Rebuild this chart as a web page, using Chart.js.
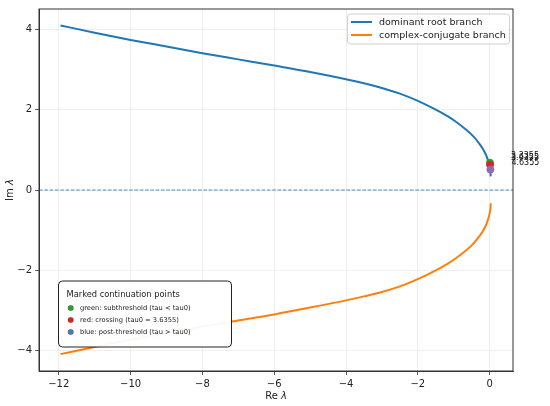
<!DOCTYPE html>
<html>
<head>
<meta charset="utf-8">
<script src="https://cdn.jsdelivr.net/npm/chart.js@4.4.0/dist/chart.umd.min.js"></script>
<style>
  html, body { margin: 0; padding: 0; background: #fff; }
  canvas { display: block; }
</style>
</head>
<body>
<canvas id="myChart" width="550" height="406"></canvas>
<script>
// branch samples (Re lambda, Im lambda)
const re = [-11.95, -11, -10, -9, -8, -7, -6, -5, -4, -3.5, -3, -2.5, -2, -1.5, -1.14, -0.94, -0.68, -0.48, -0.3, -0.2, -0.11, -0.05, -0.01, 0.02, 0.03];
const domIm = [4.10, 3.92, 3.74, 3.575, 3.41, 3.255, 3.10, 2.94, 2.76, 2.66, 2.54, 2.40, 2.22, 2.00, 1.82, 1.70, 1.52, 1.36, 1.17, 1.04, 0.89, 0.75, 0.62, 0.47, 0.34];
const conjIm = [-4.09, -3.91, -3.73, -3.565, -3.40, -3.25, -3.10, -2.93, -2.75, -2.65, -2.54, -2.40, -2.22, -2.00, -1.82, -1.70, -1.52, -1.36, -1.17, -1.04, -0.89, -0.75, -0.62, -0.47, -0.33];

// marked continuation points
const markRe = [0.01, 0.01, 0.02];
const markIm = [0.68, 0.63, 0.51];
const markTau = ['3.3355', '3.6355', '4.6355'];

const legendNames = ['dominant root branch', 'complex-conjugate branch'];
const markLegendTitle = 'Marked continuation points';
const markLegend = ['green: subthreshold (tau < tau0)', 'red: crossing (tau0 = 3.6355)', 'blue: post-threshold (tau > tau0)'];

const xTicks = [-12, -10, -8, -6, -4, -2, 0];
const yTicks = [-4, -2, 0, 2, 4];
const xLim = [-12.55, 0.65];
const yLim = [-4.51, 4.51];

const FONT = '"DejaVu Sans", sans-serif';
const BLUE = '#1f77b4', ORANGE = '#ff7f0e';
const markColors = ['#2ca02c', '#d62728', '#9467bd'];
const markLegendColors = ['#2ca02c', '#d62728', '#4c7bb0'];

function minus(v) {
  return v < 0 ? '\u2212' + Math.abs(v) : String(v);
}

function drawMathLabel(ctx, plain, sym, x, y) {
  ctx.font = '10px ' + FONT;
  const w1 = ctx.measureText(plain).width;
  ctx.font = 'italic 10px ' + FONT;
  const w2 = ctx.measureText(sym).width;
  let sx = x - (w1 + w2) / 2;
  ctx.textAlign = 'left';
  ctx.textBaseline = 'middle';
  ctx.font = '10px ' + FONT;
  ctx.fillText(plain, sx, y);
  ctx.font = 'italic 10px ' + FONT;
  ctx.fillText(sym, sx + w1, y);
}

const extras = {
  id: 'extras',
  afterDraw(chart) {
    const ctx = chart.ctx;
    const a = chart.chartArea;
    ctx.save();

    // spines
    ctx.strokeStyle = '#333';
    ctx.lineWidth = 1;
    ctx.strokeRect(a.left, a.top, a.right - a.left, a.bottom - a.top);

    // axis titles
    ctx.fillStyle = '#222';
    drawMathLabel(ctx, 'Re ', '\u03bb', (a.left + a.right) / 2, 396);
    ctx.save();
    ctx.translate(10, (a.top + a.bottom) / 2);
    ctx.rotate(-Math.PI / 2);
    drawMathLabel(ctx, 'Im ', '\u03bb', 0, 0);
    ctx.restore();

    // tau labels next to the marked points
    const pts = chart.getDatasetMeta(0).data;
    ctx.font = '8px ' + FONT;
    ctx.fillStyle = '#111';
    ctx.textAlign = 'left';
    ctx.textBaseline = 'alphabetic';
    pts.forEach((p, i) => {
      ctx.fillText(markTau[i], p.x + 21, p.y - 5);
    });

    // top-right legend
    ctx.beginPath();
    ctx.roundRect(347.5, 14, 162, 30, 3);
    ctx.fillStyle = 'rgba(255,255,255,0.85)';
    ctx.fill();
    ctx.strokeStyle = '#d0d0d0';
    ctx.lineWidth = 1;
    ctx.stroke();
    [BLUE, ORANGE].forEach((c, i) => {
      const y = 22 + i * 13;
      ctx.strokeStyle = c;
      ctx.lineWidth = 2;
      ctx.beginPath();
      ctx.moveTo(351, y);
      ctx.lineTo(372, y);
      ctx.stroke();
      ctx.fillStyle = '#222';
      ctx.font = '9.5px ' + FONT;
      ctx.textBaseline = 'middle';
      ctx.fillText(legendNames[i], 379, y + 0.5);
    });

    // marker legend box
    ctx.beginPath();
    ctx.roundRect(58.5, 281, 173, 66, 4);
    ctx.fillStyle = 'rgba(255,255,255,0.95)';
    ctx.fill();
    ctx.strokeStyle = '#222';
    ctx.lineWidth = 1;
    ctx.stroke();
    ctx.fillStyle = '#222';
    ctx.font = '8.3px ' + FONT;
    ctx.fillText(markLegendTitle, 66.5, 294.5);
    markLegend.forEach((t, i) => {
      const y = 308 + i * 12;
      ctx.beginPath();
      ctx.arc(70.7, y, 2.8, 0, Math.PI * 2);
      ctx.fillStyle = markLegendColors[i];
      ctx.fill();
      ctx.strokeStyle = 'rgba(0,0,0,0.35)';
      ctx.lineWidth = 0.5;
      ctx.stroke();
      ctx.fillStyle = '#222';
      ctx.font = '6.7px ' + FONT;
      ctx.fillText(t, 80, y + 0.5);
    });

    ctx.restore();
  }
};

const ctx = document.getElementById('myChart');
new Chart(ctx, {
  type: 'scatter',
  data: {
    datasets: [
      {
        label: 'marks',
        data: markRe.map((x, i) => ({ x: x, y: markIm[i] })),
        pointBackgroundColor: markColors,
        pointBorderColor: markColors,
        pointRadius: 3.5,
        showLine: false,
        order: 0
      },
      {
        label: legendNames[0],
        data: re.map((x, i) => ({ x: x, y: domIm[i] })),
        showLine: true,
        borderColor: BLUE,
        borderWidth: 2,
        pointRadius: 0,
        cubicInterpolationMode: 'monotone',
        order: 1
      },
      {
        label: legendNames[1],
        data: re.map((x, i) => ({ x: x, y: conjIm[i] })),
        showLine: true,
        borderColor: ORANGE,
        borderWidth: 2,
        pointRadius: 0,
        cubicInterpolationMode: 'monotone',
        order: 2
      },
      {
        label: 'zero',
        data: [{ x: xLim[0], y: 0 }, { x: xLim[1], y: 0 }],
        showLine: true,
        borderColor: 'rgba(31,119,180,0.8)',
        borderWidth: 1.2,
        borderDash: [3.7, 1.6],
        pointRadius: 0,
        order: 3
      }
    ]
  },
  options: {
    responsive: false,
    animation: false,
    layout: { padding: { top: 9, right: 37, left: 0, bottom: 0 } },
    plugins: {
      legend: { display: false },
      tooltip: { enabled: false }
    },
    scales: {
      x: {
        type: 'linear',
        min: xLim[0],
        max: xLim[1],
        afterBuildTicks: (s) => { s.ticks = xTicks.map(v => ({ value: v })); },
        afterFit: (s) => { s.height = 35; },
        ticks: {
          callback: (v) => minus(v),
          font: { family: FONT, size: 10 },
          color: '#222',
          padding: 3,
          maxRotation: 0
        },
        grid: { color: '#ebebeb', lineWidth: 0.8, tickColor: '#333', tickLength: 4 },
        border: { color: '#333', width: 1 }
      },
      y: {
        type: 'linear',
        min: yLim[0],
        max: yLim[1],
        afterBuildTicks: (s) => { s.ticks = yTicks.map(v => ({ value: v })); },
        afterFit: (s) => { s.width = 39; },
        ticks: {
          callback: (v) => minus(v),
          font: { family: FONT, size: 10 },
          color: '#222',
          padding: 3
        },
        grid: { color: '#ebebeb', lineWidth: 0.8, tickColor: '#333', tickLength: 4 },
        border: { color: '#333', width: 1 }
      }
    }
  },
  plugins: [extras]
});
</script>
</body>
</html>
